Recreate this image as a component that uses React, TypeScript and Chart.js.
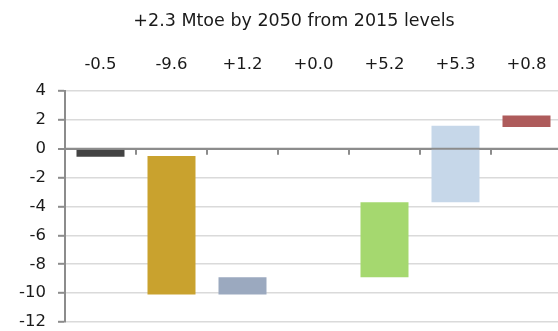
import React, { useEffect, useRef } from "react";
import { Chart, registerables } from "chart.js";

Chart.register(...registerables);

const TITLE = "+2.3 Mtoe by 2050 from 2015 levels";
const changeLabels = ["-0.5", "-9.6", "+1.2", "+0.0", "+5.2", "+5.3", "+0.8"];
const barStarts: (number | null)[] = [0, -0.5, -10.1, null, -8.9, -3.7, 1.5];
const barEnds: (number | null)[] = [-0.55, -10.1, -8.9, null, -3.7, 1.6, 2.3];
const barColors = ["#434343", "#C9A22E", "#9BA9BF", "#ffffff", "#A5D86F", "#C6D7E9", "#AE5B5B"];
const yMin = -12;
const yMax = 4;
const yStep = 2;

const FONT = "'DejaVu Sans', sans-serif";
const AXIS_GRAY = "#8c8c8c";

const zeroAxisPlugin = {
  id: "zeroAxis",
  afterDatasetsDraw(chart: any) {
    const { ctx, chartArea, scales } = chart;
    const x = scales.x;
    const y = scales.y;
    const y0 = y.getPixelForValue(0);
    ctx.save();
    ctx.strokeStyle = AXIS_GRAY;
    ctx.lineWidth = 2;
    ctx.beginPath();
    ctx.moveTo(chartArea.left, y0);
    ctx.lineTo(chartArea.right, y0);
    const n = changeLabels.length;
    for (let i = 1; i < n; i++) {
      const bx = (x.getPixelForValue(i - 1) + x.getPixelForValue(i)) / 2;
      ctx.moveTo(bx, y0);
      ctx.lineTo(bx, y0 + 6);
    }
    ctx.stroke();
    ctx.restore();
  },
  afterDraw(chart: any) {
    const { ctx } = chart;
    ctx.save();
    ctx.fillStyle = "#1a1a1a";
    ctx.font = `17.5px ${FONT}`;
    ctx.textAlign = "center";
    ctx.textBaseline = "middle";
    ctx.fillText(TITLE, 294, 21);
    ctx.restore();
  },
};

export default function App() {
  const ref = useRef<HTMLCanvasElement | null>(null);

  useEffect(() => {
    if (!ref.current) return;
    const data = changeLabels.map((_, i) =>
      barStarts[i] === null || barEnds[i] === null ? null : [barStarts[i], barEnds[i]]
    );
    const chart = new Chart(ref.current, {
      type: "bar",
      data: {
        labels: changeLabels,
        datasets: [
          {
            data: data as any,
            backgroundColor: barColors,
            borderWidth: 0,
            categoryPercentage: 1,
            barPercentage: 0.676,
          },
        ],
      },
      plugins: [zeroAxisPlugin],
      options: {
        responsive: false,
        animation: false,
        layout: { padding: { top: 40, left: 0, right: 0, bottom: 9 } },
        plugins: {
          legend: { display: false },
          tooltip: { enabled: false },
          title: { display: false },
        },
        scales: {
          x: {
            type: "category",
            position: "top",
            offset: true,
            grid: { display: false, drawTicks: false },
            border: { display: false },
            ticks: {
              color: "#1a1a1a",
              font: { family: FONT, size: 16.5 },
              padding: 16,
              maxRotation: 0,
              autoSkip: false,
            },
            afterFit: (s: any) => {
              s.height = 51;
              s.paddingLeft = 0;
              s.paddingRight = 0;
            },
          },
          y: {
            min: yMin,
            max: yMax,
            ticks: {
              stepSize: yStep,
              color: "#1a1a1a",
              font: { family: FONT, size: 16.5 },
              padding: 12,
            },
            grid: {
              color: (c: any) => (c.tick && c.tick.value === 0 ? AXIS_GRAY : "#dadada"),
              lineWidth: (c: any) => (c.tick && c.tick.value === 0 ? 2 : 1.6),
              tickColor: AXIS_GRAY,
              tickLength: 7,
              tickWidth: 2,
            },
            border: { display: true, color: AXIS_GRAY, width: 2 },
            afterFit: (s: any) => {
              s.width = 65;
              s.paddingTop = 0;
              s.paddingBottom = 0;
            },
          },
        },
      },
    });
    return () => chart.destroy();
  }, []);

  return (
    <div
      style={{
        position: "absolute",
        left: 0,
        top: 0,
        width: 558,
        height: 331,
        overflow: "hidden",
        background: "#ffffff",
      }}
    >
      <canvas ref={ref} width={562} height={331} style={{ display: "block" }} />
    </div>
  );
}
